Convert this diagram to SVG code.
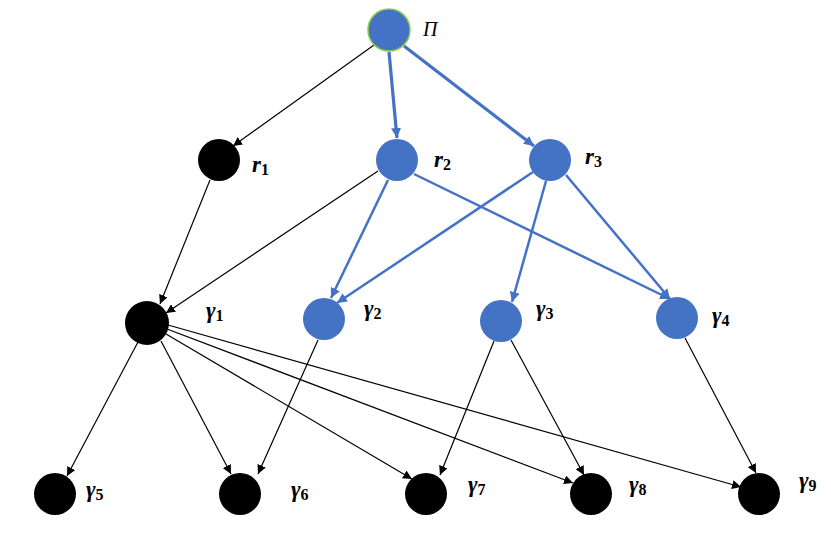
<svg xmlns="http://www.w3.org/2000/svg" width="831" height="555" viewBox="0 0 831 555">
<style>
.blk{fill:#000}
.blu{fill:#4472C4}
.eb{stroke:#000;stroke-width:1.2;fill:none;marker-end:url(#ab)}
.eu{stroke:#4472C4;stroke-width:2.5;fill:none;marker-end:url(#au)}
.eu3{stroke:#4472C4;stroke-width:3.2;fill:none;marker-end:url(#au)}
.lbl{font-family:"Liberation Serif",serif;font-style:italic;font-weight:bold;font-size:23px;fill:#000}
.sub{font-size:16px;font-style:normal}
</style>
<defs>
<marker id="ab" viewBox="0 0 10 10" refX="10" refY="5" markerWidth="9" markerHeight="9" markerUnits="userSpaceOnUse" orient="auto"><path d="M0,0 L10,5 L0,10 z" fill="#000"/></marker>
<marker id="au" viewBox="0 0 10 10" refX="10" refY="5" markerWidth="10" markerHeight="10" markerUnits="userSpaceOnUse" orient="auto"><path d="M0,0 L10,5 L0,10 z" fill="#4472C4"/></marker>
</defs>
<rect width="831" height="555" fill="#fff"/>
<g id="connectors">
<line class="eb" x1="374" y1="45" x2="233" y2="146"/>
<line class="eu3" x1="389" y1="52" x2="397" y2="138"/>
<line class="eu3" x1="404" y1="46" x2="534" y2="146"/>
<line class="eb" x1="210" y1="180" x2="160" y2="304"/>
<line class="eb" x1="378" y1="171" x2="166" y2="313"/>
<line class="eu" x1="388" y1="180" x2="331" y2="298"/>
<line class="eu" x1="414" y1="174" x2="670" y2="299"/>
<line class="eu" x1="533" y1="172" x2="337" y2="303"/>
<line class="eu" x1="546" y1="181" x2="512" y2="302"/>
<line class="eu" x1="566" y1="175" x2="670" y2="299"/>
<line class="eb" x1="138" y1="342" x2="67" y2="476"/>
<line class="eb" x1="161" y1="341" x2="231" y2="474"/>
<line class="eb" x1="166" y1="334" x2="412" y2="479"/>
<line class="eb" x1="167" y1="329" x2="573" y2="483"/>
<line class="eb" x1="168" y1="325" x2="741" y2="487"/>
<line class="eb" x1="318" y1="340" x2="258" y2="474"/>
<line class="eb" x1="494" y1="341" x2="440" y2="475"/>
<line class="eb" x1="511" y1="340" x2="584" y2="475"/>
<line class="eb" x1="685" y1="338" x2="756" y2="473"/>
</g>
<g id="Pi"><circle cx="389" cy="30" r="21" class="blu" stroke="#8CC850" stroke-width="1.5"/><text x="423" y="36" font-family="Liberation Serif,serif" font-style="italic" font-size="20">Π</text></g>
<g id="r1"><circle cx="219" cy="160" r="21" class="blk"/><text class="lbl" x="252" y="172">r<tspan class="sub" dy="3">1</tspan></text></g>
<g id="r2"><circle cx="397" cy="160" r="21" class="blu"/><text class="lbl" x="434" y="167">r<tspan class="sub" dy="3">2</tspan></text></g>
<g id="r3"><circle cx="550" cy="160" r="21" class="blu"/><text class="lbl" x="585" y="164">r<tspan class="sub" dy="3">3</tspan></text></g>
<g id="g1"><circle cx="147" cy="323" r="22" class="blk"/><text class="lbl" x="206" y="318">γ<tspan class="sub" dy="3">1</tspan></text></g>
<g id="g2"><circle cx="324" cy="319" r="21" class="blu"/><text class="lbl" x="364" y="316">γ<tspan class="sub" dy="3">2</tspan></text></g>
<g id="g3"><circle cx="501" cy="321" r="21" class="blu"/><text class="lbl" x="536" y="316">γ<tspan class="sub" dy="3">3</tspan></text></g>
<g id="g4"><circle cx="677" cy="318" r="21" class="blu"/><text class="lbl" x="712" y="323">γ<tspan class="sub" dy="3">4</tspan></text></g>
<g id="g5"><circle cx="55" cy="494" r="21" class="blk"/><text class="lbl" x="86" y="497">γ<tspan class="sub" dy="3">5</tspan></text></g>
<g id="g6"><circle cx="240" cy="494" r="21" class="blk"/><text class="lbl" x="291" y="497">γ<tspan class="sub" dy="3">6</tspan></text></g>
<g id="g7"><circle cx="426" cy="494" r="21" class="blk"/><text class="lbl" x="468" y="492">γ<tspan class="sub" dy="3">7</tspan></text></g>
<g id="g8"><circle cx="591" cy="494" r="21" class="blk"/><text class="lbl" x="629" y="492">γ<tspan class="sub" dy="3">8</tspan></text></g>
<g id="g9"><circle cx="759" cy="494" r="21" class="blk"/><text class="lbl" x="799" y="488">γ<tspan class="sub" dy="3">9</tspan></text></g>
</svg>
